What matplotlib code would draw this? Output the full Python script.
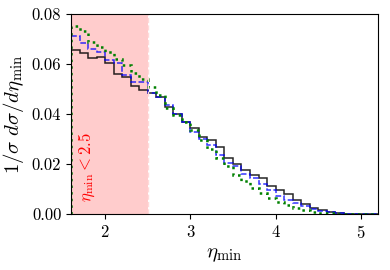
import numpy as np
import matplotlib
matplotlib.use("Agg")
import matplotlib.pyplot as plt

plt.rcParams['mathtext.fontset'] = 'cm'
plt.rcParams['font.family'] = 'serif'
plt.rcParams['font.serif'] = ['cmr10', 'DejaVu Serif']
plt.rcParams['axes.formatter.use_mathtext'] = True

# bin edges 1.6 .. 5.2, width 0.1
bin_lo = 1.6
bin_hi = 5.2
n_bins = 36

black_vals = [0.0656, 0.0645, 0.0623, 0.0628, 0.0603, 0.0560, 0.0550, 0.0513, 0.0496,
              0.0485, 0.0467, 0.0428, 0.0400, 0.0370, 0.0345, 0.0310, 0.0296, 0.0267,
              0.0223, 0.0202, 0.0178, 0.0158, 0.0146, 0.0112, 0.0098, 0.0080, 0.0058,
              0.0040, 0.0025, 0.0015, 0.0009, 0.0005, 0.0002, 0.0001, 0.0001, 0.0000]
blue_vals = [0.0713, 0.0683, 0.0660, 0.0650, 0.0616, 0.0605, 0.0556, 0.0530, 0.0528,
             0.0485, 0.0467, 0.0436, 0.0400, 0.0370, 0.0330, 0.0302, 0.0276, 0.0237,
             0.0204, 0.0194, 0.0160, 0.0145, 0.0120, 0.0096, 0.0074, 0.0058, 0.0046,
             0.0031, 0.0020, 0.0012, 0.0007, 0.0004, 0.0002, 0.0001, 0.0001, 0.0000]
green_vals = [0.0752, 0.0732, 0.0690, 0.0670, 0.0647, 0.0620, 0.0595, 0.0565, 0.0540,
              0.0510, 0.0475, 0.0425, 0.0395, 0.0370, 0.0336, 0.0298, 0.0260, 0.0223,
              0.0193, 0.0158, 0.0132, 0.0105, 0.0086, 0.0065, 0.0050, 0.0036, 0.0025,
              0.0016, 0.0010, 0.0006, 0.0004, 0.0002, 0.0001, 0.0001, 0.0001, 0.0001]

cut_value = 2.5
x_ticks = [2, 3, 4, 5]
y_ticks = [0.00, 0.02, 0.04, 0.06, 0.08]

edges = np.linspace(bin_lo, bin_hi, n_bins + 1)

fig = plt.figure(figsize=(3.9, 2.7), dpi=100)
ax = fig.add_axes([0.182, 0.207, 0.787, 0.741])

ax.axvspan(bin_lo, cut_value, color='red', alpha=0.2, lw=0)
ax.axvline(cut_value, color='#ffdada', ls='--', lw=1.0)

ax.stairs(black_vals, edges, color='black', lw=1.1, alpha=0.85)
ax.stairs(blue_vals, edges, color='blue', lw=1.1, ls='--', alpha=0.8)
ax.stairs(green_vals, edges, color='green', lw=1.8, ls=':')

ax.text(1.78, 0.005, r'$\eta_{\rm min} < 2.5$', color='red', rotation=90,
        fontsize=12, ha='center', va='bottom')

ax.set_xlim(bin_lo, bin_hi)
ax.set_ylim(0, 0.08)
ax.set_xticks(x_ticks)
ax.set_yticks(y_ticks)
ax.set_yticklabels(['0.00', '0.02', '0.04', '0.06', '0.08'])
ax.tick_params(labelsize=12)
ax.set_xlabel(r'$\eta_{\rm min}$', fontsize=15)
ax.set_ylabel(r'$1/\sigma\ d\sigma/d\eta_{\rm min}$', fontsize=15)

fig.savefig('out.png', dpi=100)
